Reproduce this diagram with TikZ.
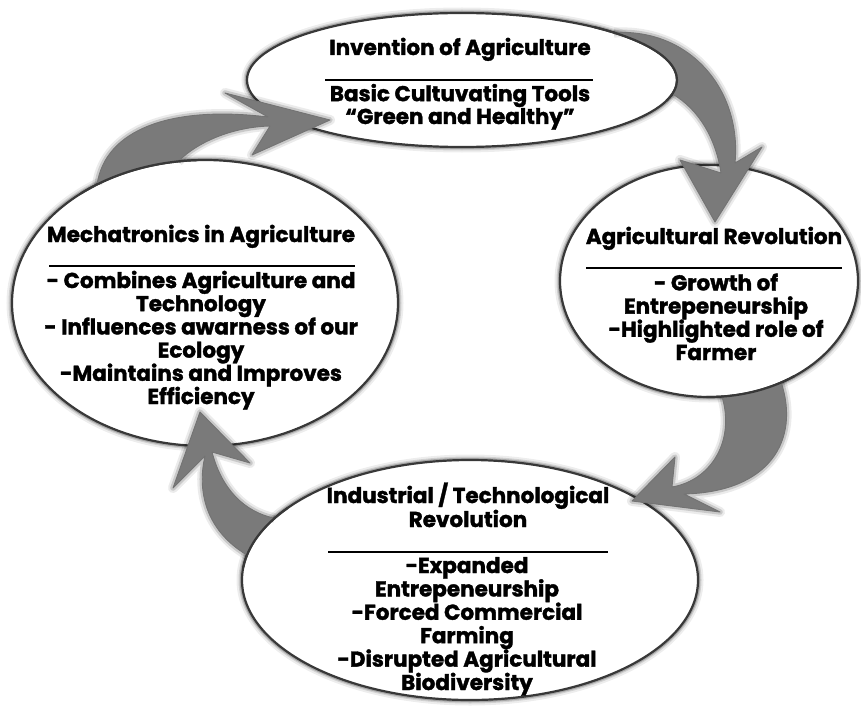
\documentclass[tikz,border=0pt]{standalone}
\usepackage{fontspec}
\setmainfont{Poppins}[BoldFeatures={FakeBold=1.6}]
\usetikzlibrary{shapes.geometric,calc}
\begin{document}
\begin{tikzpicture}[x=1pt,y=-1pt,
  ell/.style={ellipse, inner sep=0pt, fill=white, draw=black!78, line width=2.2pt,
    preaction={draw=black, draw opacity=.07, line width=11pt},
    preaction={draw=black, draw opacity=.12, line width=7pt},
    preaction={draw=black, draw opacity=.2, line width=4.5pt}},
  tx/.style={font=\fontsize{21.5}{23.2}\selectfont\bfseries, align=center, anchor=base, inner sep=0pt},
  rulesty/.style={draw=black, line width=1.4pt},
  afill/.style={fill={rgb,255:red,122;green,122;blue,122}},
  aedge/.style={draw=black!55, line width=0.9pt, line join=round},
  ash1/.style={draw=black, draw opacity=.08, line width=10pt, line join=round},
  ash2/.style={draw=black, draw opacity=.14, line width=5.5pt, line join=round},
  srcline/.style={draw=black!78, line width=2.2pt}]
\useasboundingbox[fill=white] (0,0) rectangle (861,706);

% ellipses
\node[ell, minimum width=430pt, minimum height=134pt] (T) at (462,80) {};
\node[ell, minimum width=298pt, minimum height=232pt] (R) at (709,281) {};
\node[ell, minimum width=386pt, minimum height=286pt] (L) at (205,303) {};
\node[ell, minimum width=456pt, minimum height=240pt] (B) at (470,580) {};

% arrow base points on the source ellipses
\coordinate (Ao) at ($(L.center)+({193*cos(236)},{143*sin(236)})$);
\coordinate (Ai) at ($(L.center)+({193*cos(262)},{143*sin(262)})$);
\coordinate (Bo) at ($(T.center)+({215*cos(-45)},{67*sin(-45)})$);
\coordinate (Bi) at ($(T.center)+({215*cos(12)},{67*sin(12)})$);
\coordinate (Co) at ($(R.center)+({149*cos(61)},{116*sin(61)})$);
\coordinate (Ci) at ($(R.center)+({149*cos(85)},{116*sin(85)})$);
\coordinate (Do) at ($(B.center)+({228*cos(192)},{120*sin(192)})$);
\coordinate (Di) at ($(B.center)+({228*cos(211)},{120*sin(211)})$);

\def\Aopen{(Ao) .. controls (105,130) and (170,105) .. (268,117) -- (225,93) -- (330,120) -- (252,155) -- (270,126) .. controls (235,127) and (200,140) .. (Ai)}
\def\Bopen{(Bo) .. controls (690,28) and (742,90) .. (735,163) -- (762,147) -- (715,222) -- (680,160) -- (721,173) .. controls (716,140) and (700,110) .. (Bi)}
\def\Copen{(Co) .. controls (800,440) and (770,492) .. (684,494) -- (720,512) -- (632,501) -- (675,457) -- (672,487) .. controls (712,480) and (735,440) .. (Ci)}
\def\Dopen{(Do) .. controls (205,530) and (197,490) .. (205,456) -- (173,488) -- (200,412) -- (250,463) -- (212,452) .. controls (222,490) and (245,512) .. (Di)}

% arrow A : Mechatronics -> Invention
\draw[ash1] \Aopen; \draw[ash2] \Aopen;
\fill[afill] \Aopen arc[start angle=262, end angle=236, x radius=193, y radius=143] -- cycle;
\draw[aedge] \Aopen;
\draw[srcline] ($(L.center)+({193*cos(230)},{143*sin(230)})$) arc[start angle=230, end angle=268, x radius=193, y radius=143];

% arrow B : Invention -> Agricultural Revolution
\draw[ash1] \Bopen; \draw[ash2] \Bopen;
\fill[afill] \Bopen arc[start angle=12, end angle=-45, x radius=215, y radius=67] -- cycle;
\draw[aedge] \Bopen;
\draw[srcline] ($(T.center)+({215*cos(-52)},{67*sin(-52)})$) arc[start angle=-52, end angle=18, x radius=215, y radius=67];

% arrow C : Agricultural Revolution -> Industrial
\draw[ash1] \Copen; \draw[ash2] \Copen;
\fill[afill] \Copen arc[start angle=85, end angle=61, x radius=149, y radius=116] -- cycle;
\draw[aedge] \Copen;
\draw[srcline] ($(R.center)+({149*cos(55)},{116*sin(55)})$) arc[start angle=55, end angle=91, x radius=149, y radius=116];

% arrow D : Industrial -> Mechatronics
\draw[ash1] \Dopen; \draw[ash2] \Dopen;
\fill[afill] \Dopen arc[start angle=211, end angle=192, x radius=228, y radius=120] -- cycle;
\draw[aedge] \Dopen;
\draw[srcline] ($(B.center)+({228*cos(186)},{120*sin(186)})$) arc[start angle=186, end angle=217, x radius=228, y radius=120];

% texts (multi-line nodes are placed by the baseline of their last line)
\node[tx] (Tt) at (460,55) {Invention of Agriculture};
\draw[rulesty] (325,80) -- (593,80);
\node[tx, font=\fontsize{21.5}{21}\selectfont\bfseries] (Tb) at (460,124) {Basic Cultuvating Tools\\“Green and Healthy”};

\node[tx] (Rt) at (714,244) {Agricultural Revolution};
\draw[rulesty] (586,268) -- (842,268);
\node[tx] (Rb) at (716,360) {- Growth of\\Entrepeneurship\\-Highlighted role of\\Farmer};

\node[tx] (Lt) at (201,242) {Mechatronics in Agriculture};
\draw[rulesty] (49,266) -- (355,266);
\node[tx] (Lb) at (201,404) {- Combines Agriculture and\\Technology\\- Influences awarness of our\\Ecology\\-Maintains and Improves\\Efficiency};

\node[tx, font=\fontsize{21.5}{24}\selectfont\bfseries] (Bt) at (468,527) {Industrial / Technological\\Revolution};
\draw[rulesty] (328,552) -- (608,552);
\node[tx, font=\fontsize{21.5}{23.4}\selectfont\bfseries] (Bb) at (467,690) {-Expanded\\Entrepeneurship\\-Forced Commercial\\Farming\\-Disrupted Agricultural\\Biodiversity};
\end{tikzpicture}
\end{document}
